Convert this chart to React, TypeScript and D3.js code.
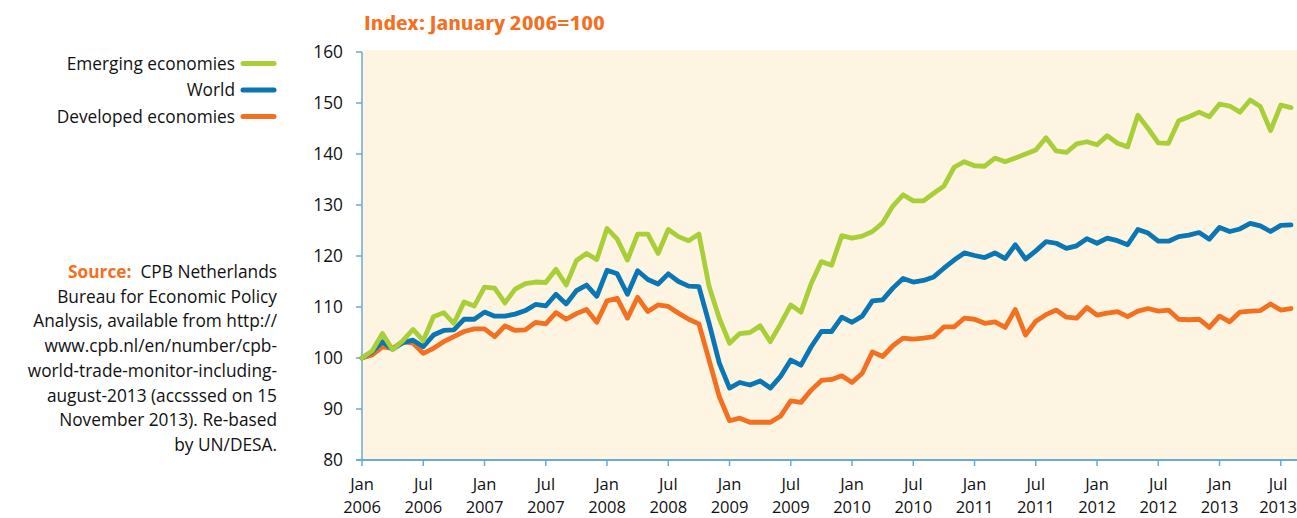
import React from "react";
import * as d3 from "d3";

const startYear = 2006;
const emerging = [
  100.0, 101.4, 104.8, 101.6, 103.4, 105.6, 103.4, 108.1, 108.9, 106.8, 111.0, 110.2,
  113.9, 113.7, 110.8, 113.5, 114.6, 114.9, 114.8, 117.4, 114.3, 119.1, 120.5, 119.3,
  125.4, 123.3, 119.2, 124.3, 124.3, 120.5, 125.2, 123.8, 123.0, 124.3, 114.0, 107.8,
  102.9, 104.8, 105.0, 106.3, 103.2, 106.7, 110.4, 109.0, 114.6, 118.9, 118.2, 124.0,
  123.5, 123.9, 124.8, 126.5, 129.8, 132.0, 130.8, 130.8, 132.3, 133.7, 137.4, 138.5,
  137.7, 137.6, 139.2, 138.5, 139.2, 140.0, 140.8, 143.2, 140.6, 140.3, 142.0, 142.4,
  141.8, 143.6, 142.1, 141.4, 147.6, 145.0, 142.2, 142.1, 146.5, 147.3, 148.2, 147.3,
  149.8, 149.4, 148.2, 150.6, 149.3, 144.6, 149.6, 149.1,
];
const world = [
  100.0, 101.2, 103.2, 101.7, 103.0, 103.5, 102.2, 104.5, 105.4, 105.5, 107.6, 107.6,
  109.0, 108.2, 108.2, 108.6, 109.3, 110.5, 110.2, 112.5, 110.6, 113.2, 114.3, 112.1,
  117.2, 116.5, 112.5, 117.1, 115.4, 114.5, 116.5, 115.0, 114.1, 114.0, 106.8, 99.0,
  94.1, 95.2, 94.7, 95.5, 94.1, 96.4, 99.6, 98.6, 102.2, 105.2, 105.2, 108.0,
  107.0, 108.2, 111.2, 111.4, 113.7, 115.6, 114.9, 115.2, 115.9, 117.6, 119.2, 120.6,
  120.1, 119.7, 120.6, 119.5, 122.2, 119.4, 121.0, 122.8, 122.5, 121.5, 122.0, 123.4,
  122.5, 123.5, 123.0, 122.2, 125.2, 124.5, 122.9, 122.9, 123.8, 124.1, 124.6, 123.3,
  125.6, 124.8, 125.3, 126.4, 125.9, 124.8, 126.0, 126.1,
];
const developed = [
  100.0, 100.6, 102.2, 101.9, 103.2, 102.9, 100.9, 101.9, 103.2, 104.2, 105.2, 105.7,
  105.7, 104.2, 106.3, 105.4, 105.5, 107.0, 106.7, 108.9, 107.6, 108.7, 109.5, 107.0,
  111.2, 111.7, 107.8, 111.9, 109.1, 110.4, 110.1, 108.8, 107.6, 106.7, 99.6, 92.4,
  87.7, 88.2, 87.4, 87.4, 87.4, 88.6, 91.6, 91.3, 93.7, 95.6, 95.8, 96.5,
  95.2, 97.0, 101.2, 100.3, 102.4, 103.9, 103.7, 103.9, 104.2, 106.1, 106.1, 107.8,
  107.6, 106.8, 107.1, 106.0, 109.5, 104.5, 107.2, 108.5, 109.4, 108.0, 107.8, 109.9,
  108.4, 108.8, 109.1, 108.1, 109.2, 109.7, 109.2, 109.4, 107.6, 107.5, 107.6, 106.0,
  108.2, 107.1, 109.0, 109.2, 109.3, 110.6, 109.4, 109.7,
];
const yTicks = [80, 90, 100, 110, 120, 130, 140, 150, 160];
const monthNames = ["Jan", "Jul"];
const seriesNames = ["Emerging economies", "World", "Developed economies"];
const sourceLines = [
  "Bureau for Economic Policy",
  "Analysis, available from http://",
  "www.cpb.nl/en/number/cpb-",
  "world-trade-monitor-including-",
  "august-2013 (accsssed on 15",
  "November 2013). Re-based",
  "by UN/DESA.",
];

const GREEN = "#a8cf38";
const BLUE = "#0a77b4";
const ORANGE = "#f37021";
const AXIS = "#6aaad6";
const BG = "#fef4e2";
const FONT = "'Open Sans', 'Noto Sans', sans-serif";

export default function App() {
  const W = 1297;
  const H = 518;
  const left = 362;
  const right = 1291;
  const top = 52;
  const bottom = 460;

  const x = d3.scaleLinear().domain([0, emerging.length - 1]).range([left, right]);
  const y = d3.scaleLinear().domain([80, 160]).range([bottom, top]);
  const line = d3
    .line<number>()
    .x((_, i) => x(i))
    .y((d) => y(d))
    .curve(d3.curveLinear);

  const series = [
    { name: seriesNames[0], data: emerging, color: GREEN },
    { name: seriesNames[1], data: world, color: BLUE },
    { name: seriesNames[2], data: developed, color: ORANGE },
  ];

  const xTicks = d3.range(0, emerging.length, 6);
  const fs = 17.3;

  return (
    <svg
      width={W}
      height={H}
      style={{ position: "absolute", left: 0, top: 0, background: "#fff" }}
      fontFamily={FONT}
    >
      <rect x={left} y={top - 2} width={W - left} height={bottom - top + 2} fill={BG} />

      <text
        x={left + 2}
        y={30}
        fill={ORANGE}
        fontWeight="bold"
        fontSize={20}
        style={{ fontStretch: "condensed" }}
        textLength={241}
        lengthAdjust="spacingAndGlyphs"
      >
        Index: January 2006=100
      </text>

      {/* legend */}
      {series.map((s, i) => (
        <g key={s.name}>
          <text x={235} y={69.5 + i * 26.5} textAnchor="end" fontSize={fs} fill="#111">
            {s.name}
          </text>
          <line
            x1={243}
            x2={274}
            y1={63.5 + i * 26.5}
            y2={63.5 + i * 26.5}
            stroke={s.color}
            strokeWidth={5}
            strokeLinecap="round"
          />
        </g>
      ))}

      {/* y axis */}
      <line x1={left} x2={left} y1={top} y2={bottom} stroke={AXIS} strokeWidth={1.5} />
      {yTicks.map((t) => (
        <g key={t}>
          <line x1={left - 6} x2={left} y1={y(t)} y2={y(t)} stroke={AXIS} strokeWidth={1.5} />
          <text x={343} y={y(t) + 6} textAnchor="end" fontSize={fs} fill="#111">
            {t}
          </text>
        </g>
      ))}

      {/* x axis */}
      <line x1={left - 6} x2={W} y1={bottom} y2={bottom} stroke={AXIS} strokeWidth={2} />
      {xTicks.map((m) => {
        const lx = Math.min(x(m), W - 19);
        return (
          <g key={m}>
            <line x1={x(m)} x2={x(m)} y1={bottom} y2={bottom + 6} stroke={AXIS} strokeWidth={1.5} />
            <text x={lx} y={490} textAnchor="middle" fontSize={16.5} fill="#111">
              {monthNames[(m / 6) % 2]}
            </text>
            <text x={lx} y={513} textAnchor="middle" fontSize={16.5} fill="#111">
              {startYear + Math.floor(m / 12)}
            </text>
          </g>
        );
      })}

      {/* lines */}
      {[...series].reverse().map((s) => (
        <path
          key={s.name}
          d={line(s.data) || ""}
          fill="none"
          stroke={s.color}
          strokeWidth={4.8}
          strokeLinejoin="round"
          strokeLinecap="round"
        />
      ))}

      {/* source */}
      <text x={277} y={278} textAnchor="end" fontSize={fs} fill="#111">
        <tspan fill={ORANGE} fontWeight="bold">Source:</tspan>
        <tspan>{"\u00a0\u00a0CPB Netherlands"}</tspan>
      </text>
      {sourceLines.map((l, i) => (
        <text key={i} x={277} y={278 + (i + 1) * 24.7} textAnchor="end" fontSize={fs} fill="#111">
          {l}
        </text>
      ))}
    </svg>
  );
}
